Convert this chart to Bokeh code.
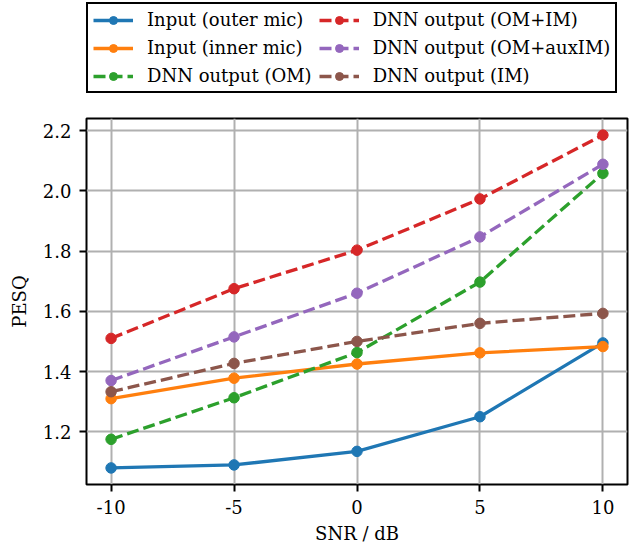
from bokeh.plotting import figure
from bokeh.models import Legend, LegendItem, FixedTicker
from bokeh.layouts import column
from bokeh.embed import file_html
from bokeh.resources import INLINE

snr = [-10, -5, 0, 5, 10]
input_outer = [1.080, 1.090, 1.135, 1.250, 1.495]
input_inner = [1.310, 1.378, 1.425, 1.462, 1.483]
dnn_om = [1.175, 1.313, 1.463, 1.697, 2.058]
dnn_om_im = [1.510, 1.675, 1.803, 1.973, 2.185]
dnn_om_aux = [1.370, 1.515, 1.660, 1.847, 2.088]
dnn_im = [1.333, 1.427, 1.500, 1.560, 1.593]

series = [
    ("Input (outer mic)", input_outer, "#1f77b4", "solid"),
    ("Input (inner mic)", input_inner, "#ff7f0e", "solid"),
    ("DNN output (OM)", dnn_om, "#2ca02c", "12 5"),
    ("DNN output (OM+IM)", dnn_om_im, "#d62728", "12 5"),
    ("DNN output (OM+auxIM)", dnn_om_aux, "#9467bd", "12 5"),
    ("DNN output (IM)", dnn_im, "#8c564b", "12 5"),
]
x_ticks = [-10, -5, 0, 5, 10]
y_ticks = [1.2, 1.4, 1.6, 1.8, 2.0, 2.2]

FONT = "DejaVu Serif"
FS = "18px"
LW = 3.3
MS = 10.5

# legend strip above the chart (its ranges keep the data itself out of view)
leg_fig = figure(width=631, height=114, output_backend="svg", toolbar_location=None,
                 x_axis_type=None, y_axis_type=None, x_range=(100, 101), y_range=(100, 101),
                 min_border_left=0, min_border_right=0, min_border_top=0, min_border_bottom=0)
leg_fig.outline_line_color = None
leg_fig.grid.visible = False

# main chart
p = figure(width=631, height=434, output_backend="svg", toolbar_location=None,
           x_range=(-11, 11), y_range=(1.025, 2.24),
           min_border_left=86, min_border_right=4, min_border_top=4, min_border_bottom=64)

items = []
for label, ys, color, dash in series:
    p.line(snr, ys, line_color=color, line_width=LW, line_dash=dash)
    p.scatter(snr, ys, size=MS, fill_color=color, line_color=color)
    l1 = leg_fig.line(snr, ys, line_color=color, line_width=LW, line_dash=dash)
    l2 = leg_fig.scatter(snr, ys, size=MS, fill_color=color, line_color=color)
    items.append(LegendItem(label=label, renderers=[l1, l2]))

p.outline_line_color = "black"
p.outline_line_width = 2
p.outline_line_alpha = 1

for ax in (p.xaxis[0], p.yaxis[0]):
    ax.axis_line_color = None
    ax.major_tick_out = 7
    ax.major_tick_in = 0
    ax.major_tick_line_width = 2
    ax.major_tick_line_color = "black"
    ax.minor_tick_line_color = None
    ax.major_label_text_font = FONT
    ax.major_label_text_font_size = FS
    ax.major_label_text_color = "black"
    ax.axis_label_text_font = FONT
    ax.axis_label_text_font_size = FS
    ax.axis_label_text_font_style = "normal"
    ax.axis_label_text_color = "black"

p.xaxis.ticker = FixedTicker(ticks=x_ticks)
p.yaxis.ticker = FixedTicker(ticks=y_ticks)
p.xaxis.major_label_overrides = {t: str(t) for t in x_ticks}
p.yaxis.major_label_overrides = {t: f"{t:.1f}" for t in y_ticks}
p.xaxis.axis_label = "SNR / dB"
p.yaxis.axis_label = "PESQ"
p.xaxis.major_label_standoff = 8
p.yaxis.major_label_standoff = 8
p.xaxis.axis_label_standoff = 6
p.yaxis.axis_label_standoff = 10

p.grid.grid_line_color = "#b0b0b0"
p.grid.grid_line_width = 2

legend = Legend(items=items, location=(0, 21), nrows=3, orientation="vertical",
                label_text_font=FONT, label_text_font_size=FS, label_text_color="black",
                glyph_width=40, glyph_height=20, label_height=20,
                label_standoff=14, spacing=7, padding=5,
                border_line_color="black", border_line_width=2, border_line_alpha=1,
                background_fill_color="white", background_fill_alpha=1, margin=0)
leg_fig.add_layout(legend, "center")

layout = column(leg_fig, p, spacing=0)
open("out.html", "w").write(file_html(layout, INLINE))
